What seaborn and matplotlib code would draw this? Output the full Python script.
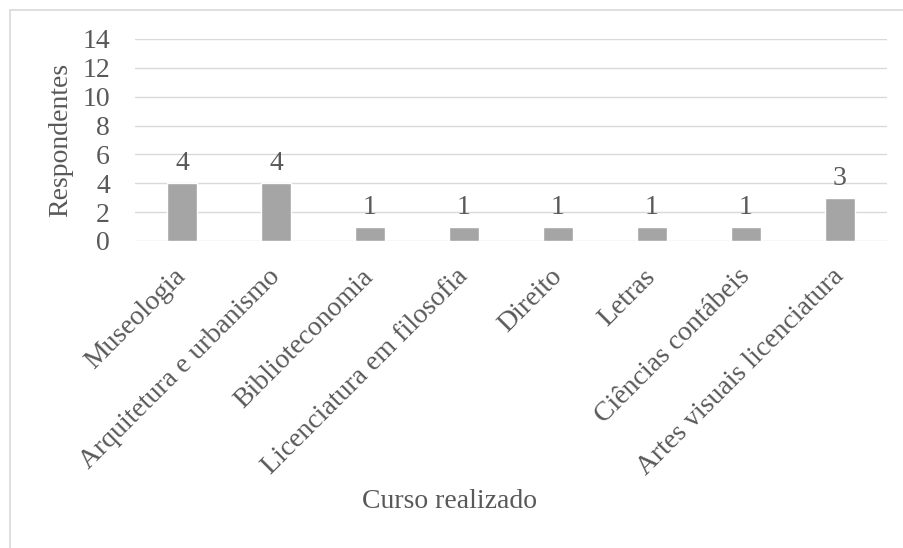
import matplotlib
matplotlib.use("Agg")
import matplotlib.pyplot as plt
import seaborn as sns
import pandas as pd
from matplotlib.patches import Rectangle

cursos = [
    "Museologia",
    "Arquitetura e urbanismo",
    "Biblioteconomia",
    "Licenciatura em filosofia",
    "Direito",
    "Letras",
    "Ciências contábeis",
    "Artes visuais licenciatura",
]
respondentes = [4, 4, 1, 1, 1, 1, 1, 3]
y_ticks = [0, 2, 4, 6, 8, 10, 12, 14]

df = pd.DataFrame({"curso": cursos, "n": respondentes})

sns.set_theme(style="white")
plt.rcParams["font.family"] = ["Liberation Serif", "DejaVu Serif"]

TEXT = "#595959"
GRID = "#D9D9D9"
BAR = "#A5A5A5"
FS = 20

W, H = 904, 548
fig = plt.figure(figsize=(W / 100, H / 100), dpi=100)
fig.patch.set_facecolor("white")

# outer chart frame (runs past the right and bottom edges)
fig.add_artist(Rectangle((10 / W, -0.1), 1.2, 1 - 10 / H + 0.1,
                         transform=fig.transFigure, fill=False,
                         edgecolor=GRID, linewidth=1.2))

left, right = 135 / W, 887 / W
bottom, top = 1 - 241 / H, 1 - 39 / H
ax = fig.add_axes([left, bottom, right - left, top - bottom])

sns.barplot(data=df, x="curso", y="n", color=BAR, saturation=1,
            width=0.31, ax=ax, zorder=3)

ax.set_ylim(0, 14)
ax.set_xlim(-0.5, len(cursos) - 0.5)
ax.set_yticks(y_ticks)
ax.yaxis.grid(True, color=GRID, linewidth=1.0, zorder=0)
ax.set_axisbelow(True)
for s in ax.spines.values():
    s.set_visible(False)

ax.tick_params(axis="y", length=0, pad=18, labelsize=FS, labelcolor=TEXT)
ax.tick_params(axis="x", length=0, pad=23, labelsize=FS, labelcolor=TEXT)
plt.setp(ax.get_xticklabels(), rotation=45, ha="right",
         rotation_mode="anchor", va="center")

for c in ax.containers:
    ax.bar_label(c, labels=[str(v) for v in respondentes], padding=5,
                 fontsize=FS, color=TEXT)

pw, ph = 887 - 135, 241 - 39
ax.set_xlabel("Curso realizado", fontsize=FS, color=TEXT)
ax.xaxis.set_label_coords((450 - 135) / pw, -(489 - 241) / ph)
ax.set_ylabel("Respondentes", fontsize=FS, color=TEXT)
ax.yaxis.set_label_coords(-(135 - 73) / pw, (241 - 140) / ph)

fig.savefig("out.png", dpi=100, facecolor="white")
